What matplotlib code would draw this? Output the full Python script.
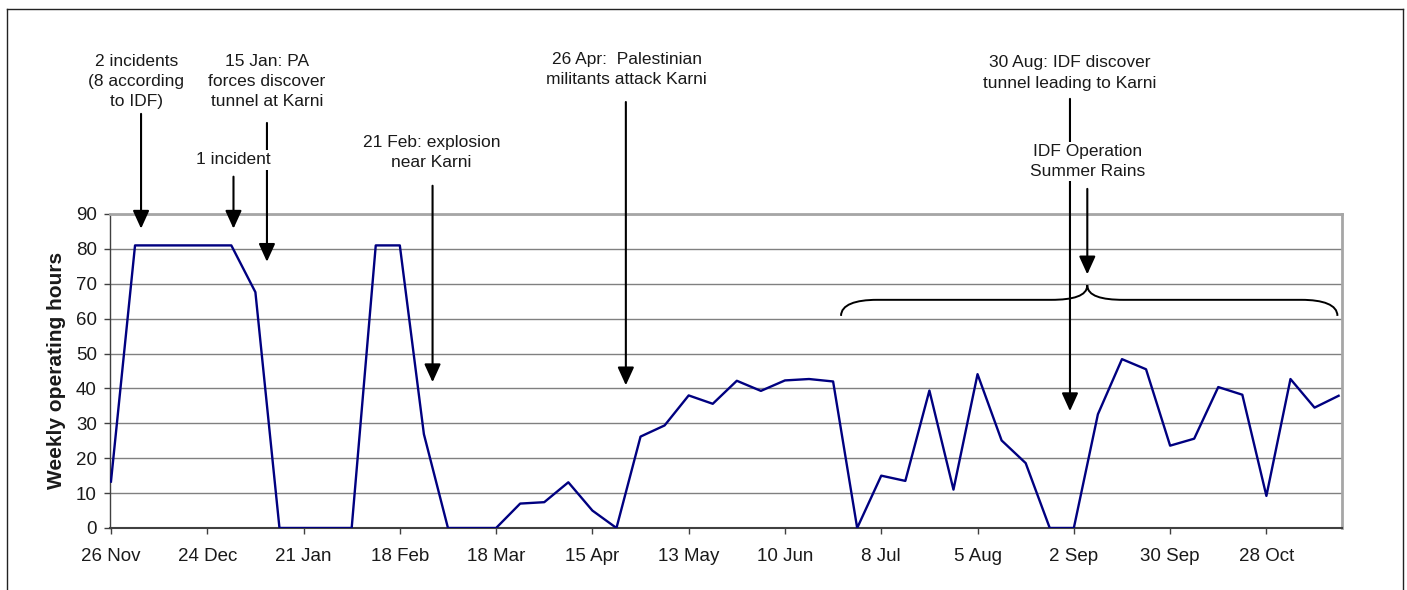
import matplotlib.pyplot as plt
from matplotlib import font_manager
from matplotlib.path import Path
from matplotlib.patches import PathPatch
from matplotlib.lines import Line2D

# weekly operating hours at Karni crossing, week 0 = 26 Nov
hours = [13.3, 81, 81, 81, 81, 81, 67.6, 0, 0, 0,
         0, 81, 81, 26.9, 0, 0, 0, 7.0, 7.4, 13.1,
         5.0, 0, 26.2, 29.4, 38.0, 35.6, 42.2, 39.3, 42.3, 42.7,
         42.0, 0, 15.0, 13.5, 39.4, 11.0, 44.1, 25.1, 18.6, 0,
         0, 32.6, 48.4, 45.5, 23.6, 25.6, 40.4, 38.2, 9.2, 42.7,
         34.5, 37.9]
weeks = list(range(len(hours)))

tick_weeks = list(range(0, 49, 4))
tick_labels = ['26 Nov', '24 Dec', '21 Jan', '18 Feb', '18 Mar', '15 Apr',
               '13 May', '10 Jun', '8 Jul', '5 Aug', '2 Sep', '30 Sep', '28 Oct']

# annotation texts and where their arrows point (week, hours)
notes = [
    ('2 incidents\n(8 according\nto IDF)', 1.05, 128, 1.25, 118.7, 85.8),
    ('15 Jan: PA\nforces discover\ntunnel at Karni', 6.48, 128, 6.48, 116.1, 76.3),
    ('21 Feb: explosion\nnear Karni', 13.32, 107.7, 13.36, 98.1, 41.8),
    ('26 Apr:  Palestinian\nmilitants attack Karni', 21.43, 131.4, 21.39, 122.1, 40.9),
    ('30 Aug: IDF discover\ntunnel leading to Karni', 39.83, 130.4, 39.84, 123.0, 33.5),
]
boxed_notes = [
    ('1 incident', 5.09, 105.5, 5.09, 100.7, 85.8),
    ('IDF Operation\nSummer Rains', 40.56, 105.1, 40.56, 97.2, 72.7),
]

installed = {f.name for f in font_manager.fontManager.ttflist}
note_font = 'Liberation Sans Narrow' if 'Liberation Sans Narrow' in installed else 'Liberation Sans'
note_size = 14.5 if note_font == 'Liberation Sans Narrow' else 12.5
plt.rcParams['font.family'] = ['Liberation Sans', 'DejaVu Sans']

W, H = 1407, 590
fig = plt.figure(figsize=(W / 100, H / 100), dpi=100)
ax = fig.add_axes([110 / W, 1 - 528 / H, (1341.5 - 110) / W, (528 - 214) / H])

ax.plot(weeks, hours, color='#000080', lw=1.7, zorder=3)

ax.set_xlim(-0.04, 51.12)
ax.set_ylim(0, 90)
ax.set_yticks(range(0, 91, 10))
ax.set_xticks(tick_weeks)
ax.set_xticklabels(tick_labels)
ax.yaxis.grid(True, color='#808080', lw=1.0)
ax.set_axisbelow(True)

for side in ['top', 'right']:
    ax.spines[side].set_color('#a6a6a6')
    ax.spines[side].set_linewidth(2)
ax.spines['left'].set_color('#404040')
ax.spines['left'].set_linewidth(1)
ax.spines['bottom'].set_color('#404040')
ax.spines['bottom'].set_linewidth(1.5)
ax.tick_params(direction='out', length=4.5, width=1, color='#404040',
               labelsize=13.5, labelcolor='#1a1a1a')
ax.tick_params(axis='x', pad=10)
ax.tick_params(axis='y', pad=5)

fig.text(56.7 / W, 1 - 370 / H, 'Weekly operating hours', rotation=90,
         ha='center', va='center', fontsize=15, fontweight='bold', color='#1a1a1a')

arrow = dict(arrowstyle='-|>,head_length=0.55,head_width=0.25', mutation_scale=20,
             lw=1.5, color='black', shrinkA=0, shrinkB=0)

for txt, tx, ty, ax_x, top, tip in notes:
    ax.text(tx, ty, txt, ha='center', va='center', multialignment='center',
            fontsize=note_size, family=note_font, color='#1a1a1a',
            linespacing=1.45, clip_on=False)
    ax.annotate('', xy=(ax_x, tip), xytext=(ax_x, top), arrowprops=arrow,
                annotation_clip=False)

for txt, tx, ty, ax_x, top, tip in boxed_notes:
    ax.text(tx, ty, txt, ha='center', va='center', multialignment='center',
            fontsize=note_size, family=note_font, color='#1a1a1a',
            linespacing=1.45, clip_on=False, zorder=6,
            bbox=dict(facecolor='white', edgecolor='none', pad=1.5))
    ax.annotate('', xy=(ax_x, tip), xytext=(ax_x, top), arrowprops=arrow,
                annotation_clip=False)

# curly brace marking the Summer Rains operation
bl, bm, br = 30.33, 40.56, 50.95
y_end, y_mid, y_peak = 60.8, 65.4, 69.6
verts = [(bl, y_end), (bl, 64.0), (bl + 0.6, y_mid), (bl + 1.5, y_mid),
         (bm - 1.5, y_mid),
         (bm - 0.6, y_mid), (bm, 66.5), (bm, y_peak),
         (bm, 66.5), (bm + 0.6, y_mid), (bm + 1.5, y_mid),
         (br - 1.5, y_mid),
         (br - 0.6, y_mid), (br, 64.0), (br, y_end)]
codes = [Path.MOVETO, Path.CURVE4, Path.CURVE4, Path.CURVE4,
         Path.LINETO,
         Path.CURVE4, Path.CURVE4, Path.CURVE4,
         Path.CURVE4, Path.CURVE4, Path.CURVE4,
         Path.LINETO,
         Path.CURVE4, Path.CURVE4, Path.CURVE4]
ax.add_patch(PathPatch(Path(verts, codes), facecolor='none', edgecolor='black',
                       lw=1.4, zorder=4))

# outer frame of the chart area
fx0, fx1, fy1 = 7.3 / W, 1402.7 / W, 1 - 9.3 / H
for xs, ys in [([fx0, fx0], [0, fy1]), ([fx0, fx1], [fy1, fy1]), ([fx1, fx1], [fy1, 0])]:
    fig.add_artist(Line2D(xs, ys, color='#222222', lw=1.0))

fig.savefig('out.png', dpi=100)
